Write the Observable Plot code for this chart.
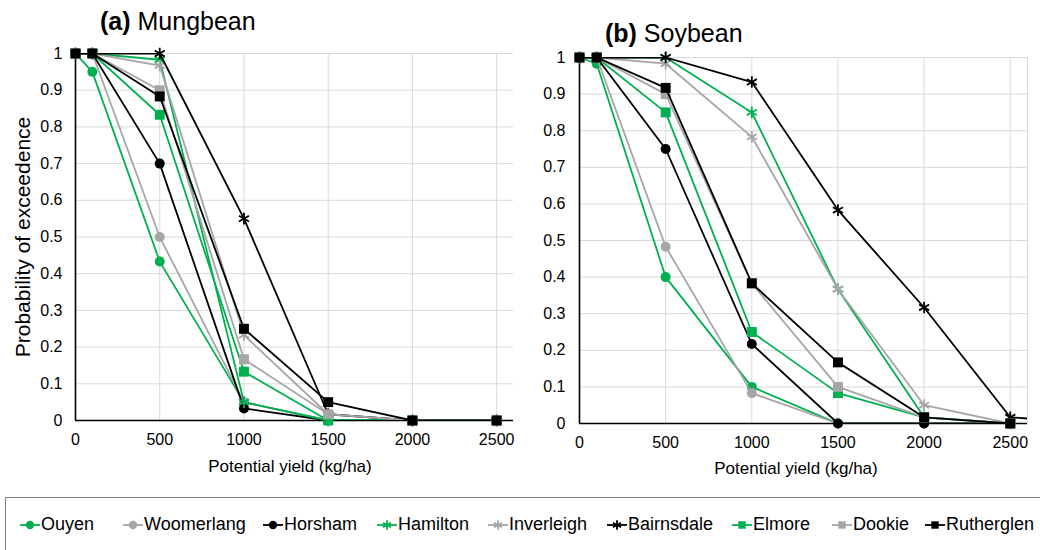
<!DOCTYPE html>
<html>
<head>
<meta charset="utf-8">
<script src="https://cdn.jsdelivr.net/npm/d3@7"></script>
<script src="https://cdn.jsdelivr.net/npm/@observablehq/plot@0.6"></script>
<style>
  html, body { margin:0; padding:0; background:#fff; }
  #wrap { position:relative; width:1040px; height:550px; overflow:hidden; font-family:"Liberation Sans", Arial, sans-serif; color:#000; }
  .panel { position:absolute; top:0; }
  .title { position:absolute; font-size:25px; line-height:1; white-space:nowrap; }
  .title b { font-weight:bold; }
  .xlabel { position:absolute; font-size:17px; line-height:1; white-space:nowrap; transform:translate(-50%,-50%); }
  .ylabel { position:absolute; font-size:21px; line-height:1; white-space:nowrap; transform:translate(-50%,-50%) rotate(-90deg); }
  #legend { position:absolute; left:5px; top:497px; width:1060px; height:80px; border:1px solid #7f7f7f; box-sizing:border-box; }
  .item { position:absolute; top:16px; display:flex; align-items:center; font-size:18px; white-space:nowrap; }
  .item svg { margin-right:1px; }
</style>
</head>
<body>
<div id="wrap">
  <div class="panel" id="pa" style="left:0"></div>
  <div class="panel" id="pb" style="left:520px"></div>
  <div class="title" style="left:100px;top:9px"><b>(a)</b> Mungbean</div>
  <div class="title" style="left:605px;top:21px"><b>(b)</b> Soybean</div>
  <div class="ylabel" style="left:22px;top:237px">Probability of exceedence</div>
  <div class="xlabel" style="left:290px;top:466px">Potential yield (kg/ha)</div>
  <div class="xlabel" style="left:796px;top:468px">Potential yield (kg/ha)</div>
  <div id="legend"></div>
</div>
<script>
// ---- data ----
const sites = ["Ouyen","Woomerlang","Horsham","Hamilton","Inverleigh","Bairnsdale","Elmore","Dookie","Rutherglen"];
const siteColors = ["#00b050","#a6a6a6","#000000","#00b050","#a6a6a6","#000000","#00b050","#a6a6a6","#000000"];
const siteSymbols = ["circle","circle","circle","asterisk","asterisk","asterisk","square","square","square"];
const yieldLevels = [0, 100, 500, 1000, 1500, 2000, 2500, 3000];
const xTicks = [0, 500, 1000, 1500, 2000, 2500];
const yTicks = [0, 0.1, 0.2, 0.3, 0.4, 0.5, 0.6, 0.7, 0.8, 0.9, 1];

// probability of exceedence per site (rows follow `sites`, columns follow `yieldLevels`)
const mungbeanProb = [
  [1, 0.95, 0.433, 0.05, 0, 0, 0, null],
  [1, 1, 0.5, 0.05, 0, 0, 0, null],
  [1, 1, 0.7, 0.033, 0, 0, 0, null],
  [1, 1, 0.983, 0.05, 0, 0, 0, null],
  [1, 1, 0.967, 0.233, 0.017, 0, 0, null],
  [1, 1, 1, 0.55, 0.017, 0, 0, null],
  [1, 1, 0.833, 0.133, 0, 0, 0, null],
  [1, 1, 0.9, 0.167, 0.017, 0, 0, null],
  [1, 1, 0.883, 0.25, 0.05, 0, 0, null]
];
const soybeanProb = [
  [1, 0.983, 0.4, 0.1, 0, 0, 0, null],
  [1, 1, 0.483, 0.083, 0, 0, 0, null],
  [1, 1, 0.75, 0.217, 0, 0, 0, null],
  [1, 1, 1, 0.85, 0.367, 0.017, 0, null],
  [1, 1, 0.983, 0.783, 0.367, 0.05, 0, null],
  [1, 1, 1, 0.933, 0.583, 0.317, 0.017, 0],
  [1, 1, 0.85, 0.25, 0.083, 0.017, 0, null],
  [1, 1, 0.9, 0.383, 0.1, 0.017, 0, null],
  [1, 1, 0.917, 0.383, 0.167, 0.017, 0, null]
];

const xMax = 2600;
const fontFamily = '"Liberation Sans", Arial, sans-serif';

function dotOpts(i) {
  const sym = siteSymbols[i], c = siteColors[i];
  if (sym === "asterisk") return {symbol: "asterisk", stroke: c, strokeWidth: 1.8, r: 5.5, fill: "none"};
  if (sym === "square") return {symbol: "square", fill: c, stroke: "none", r: 5.6};
  return {symbol: "circle", fill: c, stroke: "none", r: 5};
}

function makePanel(values, o) {
  const marks = [
    Plot.gridX(xTicks, {stroke: "#d9d9d9", strokeOpacity: 1, strokeWidth: 1}),
    Plot.gridY(yTicks, {stroke: "#d9d9d9", strokeOpacity: 1, strokeWidth: 1}),
  ];
  if (o.rightEdge) marks.push(Plot.ruleX([xMax], {stroke: "#d9d9d9", strokeWidth: 1}));
  marks.push(
    Plot.axisX(xTicks, {tickSize: 0, tickPadding: 13, fontSize: 16, label: null, tickFormat: d => String(d)}),
    Plot.axisY(yTicks, {tickSize: 0, tickPadding: o.yPad, fontSize: 16, label: null, tickFormat: d => String(+d.toFixed(1))}),
    Plot.ruleX([0], {stroke: "#000", strokeWidth: 1.6}),
    Plot.ruleY([0], {stroke: "#000", strokeWidth: 1.6})
  );
  sites.forEach((s, i) => {
    const rows = [];
    yieldLevels.forEach((x, j) => { if (values[i][j] != null) rows.push({x, y: values[i][j]}); });
    marks.push(Plot.line(rows, {x: "x", y: "y", stroke: siteColors[i], strokeWidth: 1.8, clip: true}));
    marks.push(Plot.dot(rows.filter(d => d.x <= xMax), {x: "x", y: "y", ...dotOpts(i)}));
  });
  return Plot.plot({
    width: 520, height: 480,
    marginTop: o.top, marginBottom: o.bottom, marginLeft: o.left, marginRight: o.right,
    x: {domain: [0, xMax]},
    y: {domain: [0, 1]},
    style: {fontFamily, fontSize: "16px", color: "#000", background: "transparent", overflow: "visible"},
    marks
  });
}

document.getElementById("pa").appendChild(makePanel(mungbeanProb, {top: 53, bottom: 60, left: 75, right: 7, yPad: 13}));
document.getElementById("pb").appendChild(makePanel(soybeanProb, {top: 57, bottom: 57, left: 59, right: 13, yPad: 14, rightEdge: true}));

// ---- legend ----
const legendLeft = [14, 117, 257, 371, 482, 601, 726, 826, 919];
const legend = document.getElementById("legend");
const symMap = {circle: d3.symbolCircle, square: d3.symbolSquare, asterisk: d3.symbolAsterisk};
sites.forEach((s, i) => {
  const item = document.createElement("div");
  item.className = "item";
  item.style.left = legendLeft[i] + "px";
  const svg = d3.create("svg").attr("width", 20).attr("height", 14);
  svg.append("line").attr("x1", 0).attr("x2", 20).attr("y1", 7).attr("y2", 7)
     .attr("stroke", siteColors[i]).attr("stroke-width", 1.8);
  const sym = siteSymbols[i];
  const p = svg.append("path").attr("transform", "translate(10,7)")
     .attr("d", d3.symbol(symMap[sym], sym === "asterisk" ? 60 : 55)());
  if (sym === "asterisk") p.attr("fill", "none").attr("stroke", siteColors[i]).attr("stroke-width", 1.8);
  else p.attr("fill", siteColors[i]);
  item.appendChild(svg.node());
  const t = document.createElement("span");
  t.textContent = s;
  item.appendChild(t);
  legend.appendChild(item);
});
</script>
</body>
</html>
